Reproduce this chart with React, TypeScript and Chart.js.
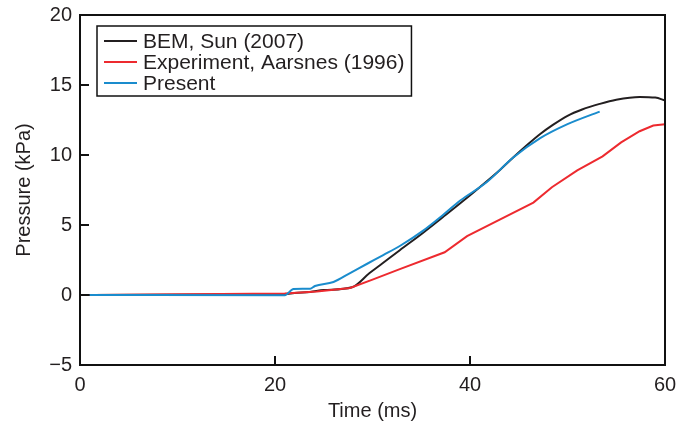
import React, { useEffect, useRef } from "react";
import { Chart, registerables } from "chart.js";

Chart.register(...registerables);

const xTicks = [0, 20, 40, 60];
const yTicks = [-5, 0, 5, 10, 15, 20];

const bemTime = [0.3, 21, 22, 23.6, 25, 27.9, 29.7, 31, 32.8, 35.2, 37.2, 39, 41, 43.1, 44.4, 46, 47.2, 48.5, 50, 51.5, 53.3, 55, 57.4, 59, 60];
const bemPressure = [0, 0.05, 0.15, 0.22, 0.35, 0.55, 1.57, 2.25, 3.2, 4.45, 5.55, 6.55, 7.7, 8.95, 9.8, 10.8, 11.5, 12.15, 12.8, 13.25, 13.65, 13.95, 14.15, 14.1, 13.9];

const expTime = [1.4, 21, 24.3, 27.7, 30, 32.8, 37.4, 39.7, 43.1, 46.5, 48.4, 51, 53.6, 55.5, 57.4, 58.8, 60];
const expPressure = [0, 0.1, 0.25, 0.5, 1.1, 1.85, 3.05, 4.2, 5.4, 6.6, 7.7, 8.9, 9.9, 10.9, 11.7, 12.1, 12.2];

const presTime = [1, 21, 21.9, 23.6, 24.1, 26, 27.7, 29.5, 31.1, 32.8, 35.2, 37.2, 39, 41.7, 44.4, 47.2, 50, 53.3];
const presPressure = [0, -0.02, 0.43, 0.45, 0.64, 0.93, 1.57, 2.25, 2.85, 3.5, 4.6, 5.7, 6.75, 8.05, 9.8, 11.2, 12.2, 13.1];

const labels = ["BEM, Sun (2007)", "Experiment, Aarsnes (1996)", "Present"];
const colors = ["#231f20", "#ed2a2f", "#1a8ccd"];

const zip = (xs: number[], ys: number[]) => xs.map((x, i) => ({ x, y: ys[i] }));

const FONT = "'Liberation Sans', Arial, Helvetica, sans-serif";
const TEXT = "#231f20";

const framePlugin = {
  id: "frameTicks",
  afterDatasetsDraw(chart: any) {
    const { ctx, chartArea: a, scales } = chart;
    ctx.save();
    ctx.strokeStyle = "#111";
    ctx.lineWidth = 2;
    ctx.strokeRect(a.left, a.top, a.right - a.left, a.bottom - a.top);
    ctx.beginPath();
    yTicks.forEach((v) => {
      const y = scales.y.getPixelForValue(v);
      ctx.moveTo(a.left, y);
      ctx.lineTo(a.left + 9, y);
    });
    xTicks.forEach((v) => {
      const x = scales.x.getPixelForValue(v);
      ctx.moveTo(x, a.bottom);
      ctx.lineTo(x, a.bottom - 9);
    });
    ctx.stroke();

    // legend
    const left = a.left + 17;
    const top = a.top + 11;
    const rowH = 21;
    ctx.font = `21px ${FONT}`;
    let maxW = 0;
    labels.forEach((l) => (maxW = Math.max(maxW, ctx.measureText(l).width)));
    const boxW = 46 + maxW + 7;
    const boxH = rowH * labels.length + 7;
    ctx.fillStyle = "#fff";
    ctx.fillRect(left, top, boxW, boxH);
    ctx.lineWidth = 1.5;
    ctx.strokeStyle = "#111";
    ctx.strokeRect(left, top, boxW, boxH);
    ctx.textBaseline = "middle";
    labels.forEach((l, i) => {
      const cy = top + 15 + i * rowH;
      ctx.strokeStyle = colors[i];
      ctx.lineWidth = 2;
      ctx.beginPath();
      ctx.moveTo(left + 7, cy);
      ctx.lineTo(left + 40, cy);
      ctx.stroke();
      ctx.fillStyle = TEXT;
      ctx.fillText(l, left + 46, cy + 1);
    });
    ctx.restore();
  },
};

export default function App() {
  const ref = useRef<HTMLCanvasElement>(null);
  useEffect(() => {
    document.body.style.margin = "0";
    const chart = new Chart(ref.current as HTMLCanvasElement, {
      type: "line",
      data: {
        datasets: [
          {
            label: labels[0],
            data: zip(bemTime, bemPressure),
            borderColor: colors[0],
            borderWidth: 2,
            pointRadius: 0,
            cubicInterpolationMode: "monotone",
            order: 3,
          },
          {
            label: labels[1],
            data: zip(expTime, expPressure),
            borderColor: colors[1],
            borderWidth: 2,
            pointRadius: 0,
            tension: 0,
            order: 2,
          },
          {
            label: labels[2],
            data: zip(presTime, presPressure),
            borderColor: colors[2],
            borderWidth: 2,
            pointRadius: 0,
            cubicInterpolationMode: "monotone",
            order: 1,
          },
        ],
      },
      options: {
        animation: false,
        responsive: false,
        layout: { padding: { top: 15, right: 17, left: 0, bottom: 0 } },
        plugins: { legend: { display: false }, tooltip: { enabled: false } },
        scales: {
          x: {
            type: "linear",
            min: 0,
            max: 60,
            afterFit: (s: any) => {
              s.height = 66;
              s.paddingLeft = 0;
              s.paddingRight = 0;
            },
            afterBuildTicks: (s: any) => {
              s.ticks = xTicks.map((v) => ({ value: v }));
            },
            grid: { display: false, drawTicks: false },
            border: { display: false },
            ticks: { color: TEXT, padding: 8, font: { size: 20, family: FONT } },
            title: {
              display: true,
              text: "Time (ms)",
              color: TEXT,
              font: { size: 20, family: FONT },
              padding: { top: 0, bottom: 8 },
            },
          },
          y: {
            type: "linear",
            min: -5,
            max: 20,
            afterFit: (s: any) => {
              s.width = 80;
              s.paddingTop = 0;
              s.paddingBottom = 0;
            },
            afterBuildTicks: (s: any) => {
              s.ticks = yTicks.map((v) => ({ value: v }));
            },
            grid: { display: false, drawTicks: false },
            border: { display: false },
            ticks: {
              color: TEXT,
              padding: 8,
              font: { size: 20, family: FONT },
              callback: (v: any) => String(v).replace("-", "\u2212"),
            },
            title: {
              display: true,
              text: "Pressure (kPa)",
              color: TEXT,
              font: { size: 20, family: FONT },
              padding: { top: 12, bottom: 0 },
            },
          },
        },
      },
      plugins: [framePlugin],
    } as any);
    return () => chart.destroy();
  }, []);
  return <canvas ref={ref} width={682} height={431} style={{ display: "block" }} />;
}
